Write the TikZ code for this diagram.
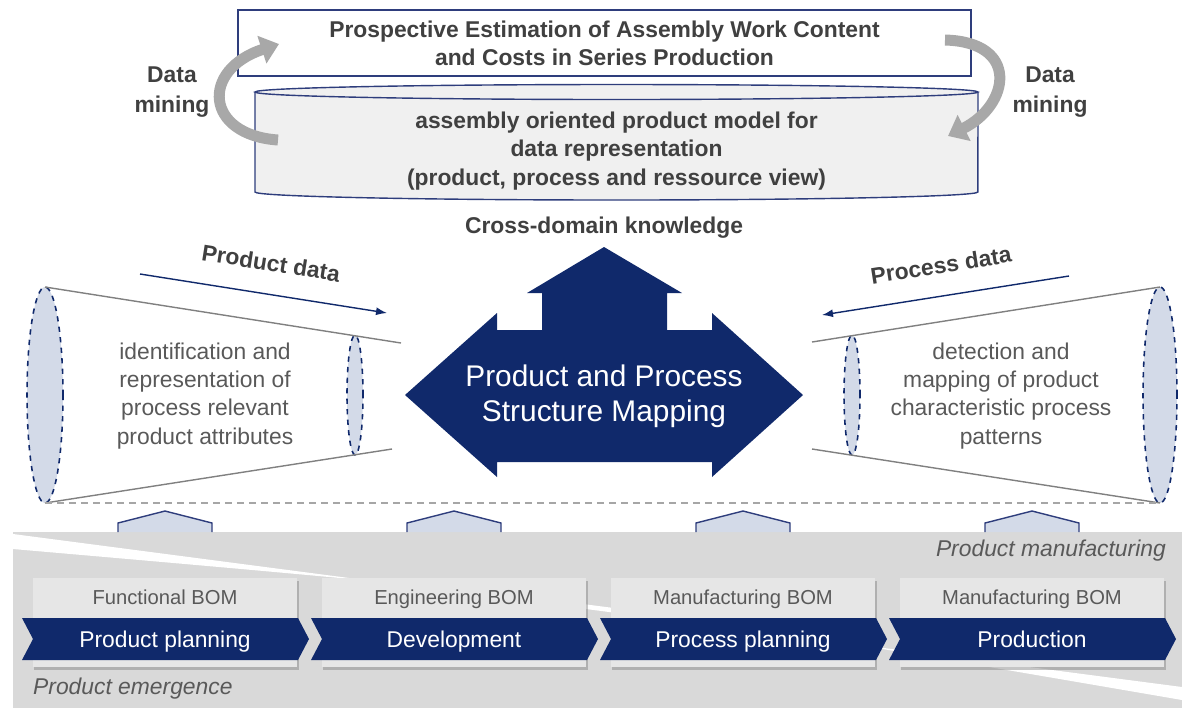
\documentclass[tikz,border=0pt]{standalone}
\usepackage{fontspec}
\setmainfont{Liberation Sans}
\usepackage{tikz}
\usetikzlibrary{positioning}
\usetikzlibrary{arrows.meta}
\usetikzlibrary{shadows}

\definecolor{navy}{HTML}{10296B}
\definecolor{framecol}{HTML}{2E3D7C}
\definecolor{paleblue}{HTML}{D3DAE8}
\definecolor{txtgray}{HTML}{404040}
\definecolor{softgray}{HTML}{595959}
\definecolor{bandgray}{HTML}{D9D9D9}
\definecolor{boxgray}{HTML}{E6E6E6}
\definecolor{arrowgray}{HTML}{A8A8A8}
\definecolor{cylgray}{HTML}{F0F0F0}

\begin{document}
\begin{tikzpicture}[x=0.02cm, y=-0.02cm,
  bold text/.style={font=\fontsize{13}{16}\selectfont\bfseries, text=txtgray, align=center},
  plain text/.style={font=\fontsize{13}{16}\selectfont, text=softgray, align=center},
  titlebox/.style={draw=framecol, fill=white, line width=0.8pt, minimum width=14.66cm, minimum height=1.32cm, inner sep=0pt},
  cone ellipse/.style={fill=paleblue, draw=navy, dashed, line width=0.9pt},
  cone line/.style={draw=gray, line width=0.8pt},
  mining arrow/.style={line width=0.22cm, draw=arrowgray, -{Triangle[length=0.36cm, width=0.56cm]}},
  data arrow/.style={draw=navy, line width=0.8pt, -{Latex[length=0.22cm, width=0.16cm]}},
  house/.style={fill=paleblue, draw=framecol, line width=0.8pt},
  bombox/.style={fill=boxgray, minimum width=5.3cm, minimum height=1.78cm, inner sep=0pt,
    drop shadow={shadow xshift=0.03cm, shadow yshift=-0.06cm, opacity=0.45}},
  bom text/.style={font=\fontsize{11.5}{14}\selectfont, text=softgray, anchor=base},
  phase text/.style={font=\fontsize{13}{16}\selectfont, text=white, anchor=base},
  phase label/.style={font=\fontsize{13}{16}\selectfont\itshape, text=softgray}]
\useasboundingbox (0,0) rectangle (1182,708);

% estimation box and product model
\node[titlebox, bold text] (estimation) at (604.5,43) {Prospective Estimation of Assembly Work Content\\and Costs in Series Production};
\fill[cylgray] (255,92) -- (255,192) arc [start angle=180, end angle=360, x radius=7.23cm, y radius=0.16cm] -- (978,92) arc [start angle=0, end angle=180, x radius=7.23cm, y radius=0.15cm] -- cycle;
\draw[framecol, line width=0.8pt] (255,92) -- (255,192) arc [start angle=180, end angle=360, x radius=7.23cm, y radius=0.16cm] -- (978,92);
\draw[framecol, line width=0.8pt] (616.5,92) ellipse [x radius=7.23cm, y radius=0.15cm];
\node[bold text] (model) at (616.5,151) {assembly oriented product model for\\data representation\\(product, process and ressource view)};

% data mining
\node[bold text, font=\fontsize{13}{17}\selectfont\bfseries] (mining left) at (172,92) {Data\\mining};
\node[bold text, font=\fontsize{13}{17}\selectfont\bfseries] (mining right) at (1050,92) {Data\\mining};
\coordinate (lm tail) at (278,140);
\coordinate (lm head) at (279,44);
\coordinate (rm tail) at (945,40);
\coordinate (rm head) at (948,136);
\draw[mining arrow] (lm tail) .. controls (205,135) and (200,70) .. (lm head);
\draw[mining arrow] (rm tail) .. controls (1020,42) and (1010,105) .. (rm head);

% mapping arrow
\node[bold text] (knowledge) at (604,228) {Cross-domain knowledge};
\fill[navy] (604,247) -- (682,293) -- (667,293) -- (667,330) -- (712,330) -- (712,313) -- (803,395)
  -- (712,477) -- (712,462) -- (497,462) -- (497,477) -- (405,395) -- (497,313) -- (497,330)
  -- (542,330) -- (542,293) -- (527,293) -- cycle;
\node[font=\fontsize{17}{20}\selectfont, text=white, align=center] (mapping) at (604,396) {Product and Process\\Structure Mapping};

% product side
\draw[cone ellipse] (45,395) ellipse [x radius=0.36cm, y radius=2.16cm];
\draw[cone ellipse] (355,395) ellipse [x radius=0.16cm, y radius=1.2cm];
\draw[cone line] (45,287) -- (401,343);
\draw[cone line] (45,503) -- (392,449);
\node[plain text] (attributes) at (205,396) {identification and\\representation of\\process relevant\\product attributes};
\node[bold text, rotate=-9] (pdata) at (271,263) {Product data};
\coordinate (pd start) at (140,274);
\coordinate (pd end) at (387,313);
\draw[data arrow] (pd start) -- (pd end);

% process side
\draw[cone ellipse] (1160,395) ellipse [x radius=0.34cm, y radius=2.16cm];
\draw[cone ellipse] (852,395) ellipse [x radius=0.16cm, y radius=1.2cm];
\draw[cone line] (812,342) -- (1160,287);
\draw[cone line] (812,449) -- (1160,503);
\node[plain text] (patterns) at (1001,396) {detection and\\mapping of product\\characteristic process\\patterns};
\node[bold text, rotate=9] (prdata) at (941,265) {Process data};
\coordinate (pr start) at (1069,276);
\coordinate (pr end) at (822,315);
\draw[data arrow] (pr start) -- (pr end);

\draw[gray!70, line width=0.7pt, dash pattern=on 0.14cm off 0.1cm] (45,503) -- (1160,503);

% phases
\fill[bandgray] (13,532) rectangle (1182,708);
\fill[white] (13,534) -- (1182,687) -- (1182,700) .. controls (600,600) .. (13,549) -- cycle;
\node[phase label, anchor=east] (manufacturing) at (1172,551) {Product manufacturing};
\node[phase label, anchor=west] (emergence) at (27,689) {Product emergence};
\foreach \i/\bom/\phase in {0/Functional BOM/Product planning, 1/Engineering BOM/Development,
  2/Manufacturing BOM/Process planning, 3/Manufacturing BOM/Production}{
  \filldraw[house] ({118+289*\i},532) -- ++(0,-9) -- ++(47,-12) -- ++(47,12) -- ++(0,9);
  \node[bombox] (box\i) at ({165+289*\i},622.5) {};
  \fill[navy, shift={({289*\i},0)}] (22,618) -- (298,618) -- (309,639) -- (298,660) -- (22,660) -- (33,639) -- cycle;
  \node[bom text] (bom\i) at ({165+289*\i},604) {\bom};
  \node[phase text] (phase\i) at ({165+289*\i},647) {\phase};
}
\end{tikzpicture}
\end{document}
